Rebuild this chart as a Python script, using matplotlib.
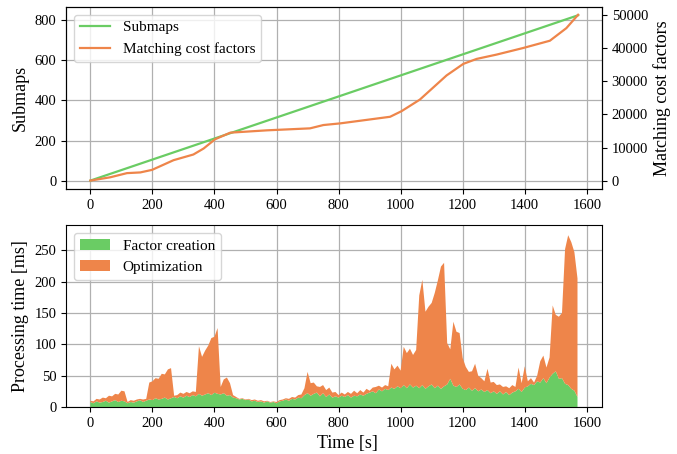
import numpy as np
import matplotlib
matplotlib.use("Agg")
import matplotlib.pyplot as plt

plt.rcParams['font.family'] = ['Liberation Serif', 'DejaVu Serif']
plt.rcParams['mathtext.fontset'] = 'stix'

GREEN = '#6acc64'
ORANGE = '#ee854a'

# ---- top panel data ----
submap_t = [0, 1572]
submap_n = [0, 825]

cost_t = [0, 64, 118, 161, 199, 268, 332, 365, 402, 451, 569, 708, 751, 805,
          966, 1003, 1062, 1148, 1202, 1245, 1309, 1395, 1481, 1534, 1572]
cost_v = [0, 1000, 2260, 2470, 3250, 6170, 7890, 9700, 12500, 14500, 15200,
          15800, 16800, 17300, 19300, 21000, 24500, 31800, 35300, 36800,
          38100, 40100, 42300, 46100, 50150]

# ---- bottom panel data (10 s samples, 0..1570 s) ----
time_s = np.arange(0, 1571, 10)
factor_ms = [8, 6, 9, 7, 8, 10, 7, 9, 11, 8, 10, 9,
             6, 8, 7, 9, 11, 8, 10,
             12, 11, 14, 12, 13, 15, 12, 14,
             16, 14, 17, 15, 18, 16, 19, 17,
             21, 18, 20, 22, 19, 23, 21,
             20, 22, 18, 19, 15, 14, 12, 13, 11, 12, 9, 10, 8, 9, 7, 9, 7, 8, 6,
             9, 10, 12, 10, 13, 12, 15, 14,
             19, 22, 18, 21, 23, 17, 22, 16, 20, 15, 17,
             15, 18, 16, 19, 15, 18, 17, 20, 18, 21, 23, 25, 22,
             28, 25, 29, 27, 31, 29, 33, 30,
             35, 30, 36, 31, 34, 30, 35, 29, 33, 36, 30, 34, 29, 33,
             36, 45, 34, 32, 36, 29, 27, 31, 26, 30, 25, 28, 24, 27, 22, 25, 21,
             25, 20, 24, 19, 23, 25, 29, 24, 31, 33, 37, 35, 41, 39, 46, 38, 47,
             53, 57, 45, 46, 37, 35, 29, 26, 16]
total_ms = [10, 9, 13, 12, 15, 14, 18, 17, 21, 20, 26, 25,
            8, 11, 10, 12, 13, 12, 13,
            39, 41, 46, 45, 53, 52, 60, 62,
            18, 19, 23, 21, 24, 22, 25, 24,
            97, 80, 90, 98, 110, 112, 126,
            32, 44, 47, 38, 19, 16, 13, 14, 12, 13, 11, 12, 10, 11, 9, 10, 8, 9, 8,
            11, 12, 14, 13, 16, 15, 19, 20,
            30, 56, 38, 39, 33, 32, 35, 27, 31, 23, 24,
            19, 23, 20, 24, 21, 26, 22, 27, 23, 29, 26, 31, 32,
            34, 31, 35, 33, 69, 60, 66, 58,
            96, 86, 93, 83, 91, 178, 203, 152, 160, 166, 182, 202, 224, 230,
            102, 92, 136, 120, 118, 78, 64, 56, 57, 69, 50, 46, 41, 61, 39, 40, 35,
            36, 32, 33, 30, 35, 32, 63, 38, 65, 41, 46, 39, 50, 73, 82, 63, 79,
            162, 147, 144, 150, 252, 274, 263, 247, 205]

factor_ms = np.array(factor_ms, dtype=float)
total_ms = np.array(total_ms, dtype=float)
optim_ms = total_ms - factor_ms

fig = plt.figure(figsize=(6.77, 4.54), dpi=100)
ax1 = fig.add_axes([0.0975, 0.584, 0.7915, 0.4006])
ax2 = fig.add_axes([0.0975, 0.1035, 0.7915, 0.4005])

TICK_FS = 10.5
LABEL_FS = 13
LEG_FS = 11

# top
l1, = ax1.plot(submap_t, submap_n, color=GREEN, lw=1.6, label='Submaps')
ax1.set_ylim(-41.25, 866.25)
ax1.set_xlim(-78.5, 1648.5)
ax1.set_xticks(np.arange(0, 1601, 200))
ax1.set_yticks([0, 200, 400, 600, 800])
ax1.set_ylabel('Submaps', fontsize=LABEL_FS)
ax1.grid(True, color='#b0b0b0', lw=0.9)
ax1.tick_params(labelsize=TICK_FS)
ax1r = ax1.twinx()
l2, = ax1r.plot(cost_t, cost_v, color=ORANGE, lw=1.6, label='Matching cost factors')
ax1r.set_ylim(-2500, 52500)
ax1r.set_yticks([0, 10000, 20000, 30000, 40000, 50000])
ax1r.set_ylabel('Matching cost factors', fontsize=LABEL_FS)
ax1r.tick_params(labelsize=TICK_FS)
ax1r.legend([l1, l2], ['Submaps', 'Matching cost factors'], loc='upper left',
            fontsize=LEG_FS)

# bottom
ax2.stackplot(time_s, factor_ms, optim_ms, colors=[GREEN, ORANGE],
              labels=['Factor creation', 'Optimization'], lw=0)
ax2.set_xlim(-78.5, 1648.5)
ax2.set_ylim(0, 290)
ax2.set_xticks(np.arange(0, 1601, 200))
ax2.set_yticks([0, 50, 100, 150, 200, 250])
ax2.grid(True, color='#b0b0b0', lw=0.9)
ax2.set_axisbelow(True)
ax2.set_ylabel('Processing time [ms]', fontsize=LABEL_FS)
ax2.set_xlabel('Time [s]', fontsize=LABEL_FS)
ax2.xaxis.label.set_x(0.525)
ax2.tick_params(labelsize=TICK_FS)
ax2.legend(loc='upper left', fontsize=LEG_FS)

fig.savefig('out.png', dpi=100)
